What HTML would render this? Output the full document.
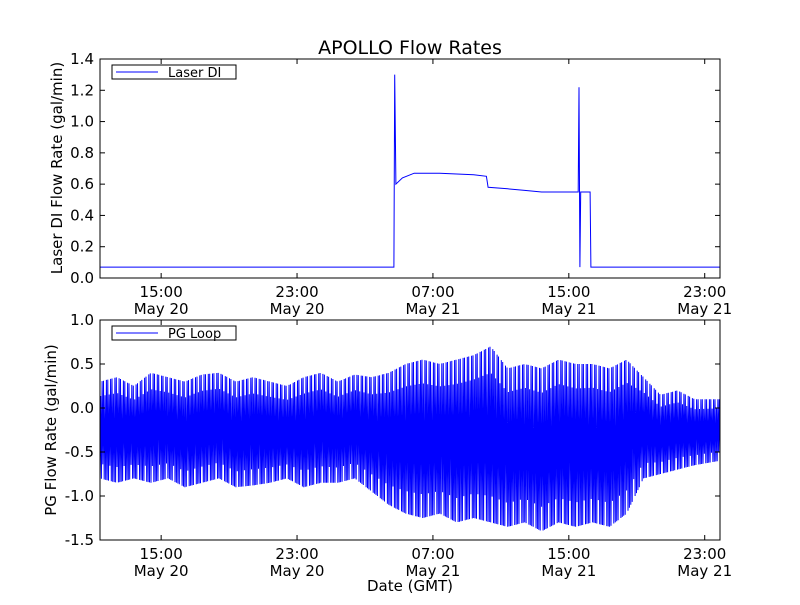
<!DOCTYPE html>
<html><head><meta charset="utf-8"><style>
body{margin:0;background:#fff}
svg text{font-family:"DejaVu Sans","Liberation Sans",sans-serif;fill:#000}
</style></head><body>
<svg id="c" width="800" height="600" xmlns="http://www.w3.org/2000/svg">
<rect width="800" height="600" fill="#fff"/>
<text x="410" y="54" font-size="19" text-anchor="middle">APOLLO Flow Rates</text>
<text transform="translate(62,168) rotate(-90)" font-size="15" text-anchor="middle">Laser DI Flow Rate (gal/min)</text>
<text transform="translate(56,430) rotate(-90)" font-size="15" text-anchor="middle">PG Flow Rate (gal/min)</text>
<text x="410" y="591" font-size="15" text-anchor="middle">Date (GMT)</text>
</svg>
<script>
// hours from plot start (~11:24 May 20)
const laserTimes=[0,17.3,17.35,17.42,17.8,18.5,20,22,22.75,22.85,24,25,26,27,27.9,28.15,28.2,28.25,28.3,28.85,28.9,36.5];
const laserValues=[0.07,0.07,1.3,0.6,0.64,0.67,0.67,0.66,0.65,0.58,0.57,0.56,0.55,0.55,0.55,0.55,1.22,0.07,0.55,0.55,0.07,0.07];
const pgHours=[0,1,2,3,4,5,6,7,8,9,10,11,12,13,14,15,16,17,18,19,20,21,22,23,24,25,26,27,28,29,30,31,32,33,34,35,36.5];
const pgUpper=[0.3,0.35,0.25,0.4,0.35,0.3,0.38,0.4,0.3,0.35,0.3,0.25,0.35,0.4,0.3,0.38,0.35,0.4,0.5,0.55,0.5,0.55,0.6,0.7,0.45,0.5,0.45,0.55,0.5,0.5,0.45,0.55,0.35,0.15,0.2,0.1,0.1];
const pgLower=[-0.8,-0.85,-0.8,-0.85,-0.8,-0.9,-0.85,-0.8,-0.9,-0.88,-0.85,-0.8,-0.9,-0.85,-0.85,-0.8,-0.95,-1.1,-1.2,-1.25,-1.2,-1.3,-1.25,-1.3,-1.35,-1.3,-1.4,-1.3,-1.35,-1.3,-1.35,-1.2,-0.8,-0.75,-0.7,-0.65,-0.6];
const xTickHours=[3.6,11.6,19.6,27.6,35.6];
const xTickTimes=["15:00","23:00","07:00","15:00","23:00"];
const xTickDates=["May 20","May 20","May 21","May 21","May 21"];
const topTicks=[0,0.2,0.4,0.6,0.8,1.0,1.2,1.4];
const botTicks=[-1.5,-1.0,-0.5,0.0,0.5,1.0];

const svg=document.getElementById('c');const NS='http://www.w3.org/2000/svg';
const X0=100,X1=720,H=36.5;
const xs=h=>X0+(X1-X0)*h/H;
function el(t,a,p){const e=document.createElementNS(NS,t);for(const k in a)e.setAttribute(k,a[k]);(p||svg).appendChild(e);return e;}
function axes(name,yTop,yBot,vmin,vmax,ticks,fmt,legendText){
  const ys=v=>yBot-(v-vmin)/(vmax-vmin)*(yBot-yTop);
  const g=el('g',{});
  
  
  return {g,ys,finish(){
    el('rect',{x:X0,y:yTop,width:X1-X0,height:yBot-yTop,fill:'none',stroke:'#000','stroke-width':1},g);
    ticks.forEach(v=>{const y=ys(v);
      el('line',{x1:X0,x2:X0+5,y1:y,y2:y,stroke:'#000'},g);el('line',{x1:X1-5,x2:X1,y1:y,y2:y,stroke:'#000'},g);
      const t=el('text',{x:X0-6,y:y+5,'font-size':15,'text-anchor':'end'},g);t.textContent=fmt(v);
      
      });
    xTickHours.forEach((h,i)=>{const x=xs(h);
      el('line',{x1:x,x2:x,y1:yBot,y2:yBot-5,stroke:'#000'},g);el('line',{x1:x,x2:x,y1:yTop,y2:yTop+5,stroke:'#000'},g);
      const t=el('text',{x:x,y:yBot+19,'font-size':15,'text-anchor':'middle'},g);t.textContent=xTickTimes[i];
      
      
      const d=el('text',{x:x,y:yBot+36,'font-size':15,'text-anchor':'middle'},g);d.textContent=xTickDates[i];
      
      });
    const lg=el('g',{},g);
    
    
    el('rect',{x:112,y:yTop+6,width:124,height:14,fill:'#fff',stroke:'#000'},lg);
    el('line',{x1:116,x2:158,y1:yTop+13,y2:yTop+13,stroke:'#00f'},lg);
    const t=el('text',{x:168,y:yTop+18,'font-size':13},lg);t.textContent=legendText;
  }};
}
const topAx=axes('laser-di-panel',59,278,0,1.4,topTicks,v=>v.toFixed(1),'Laser DI');
let pts=laserTimes.map((h,i)=>xs(h).toFixed(1)+','+topAx.ys(laserValues[i]).toFixed(1)).join(' ');
const l1=el('polyline',{points:pts,fill:'none',stroke:'#00f','stroke-width':1},topAx.g);


topAx.finish();

const botAx=axes('pg-loop-panel',320,540,-1.5,1.0,botTicks,v=>v.toFixed(1),'PG Loop');
function env(arr,h){for(let i=0;i<pgHours.length-1;i++){if(h<=pgHours[i+1]){const f=(h-pgHours[i])/(pgHours[i+1]-pgHours[i]);return arr[i]+(arr[i+1]-arr[i])*f;}}return arr[arr.length-1];}
const p2=[];const N=Math.round(H*24);
for(let k=0;k<=N;k++){const h=H*k/N;const u=env(pgUpper,h),l=env(pgLower,h),m=(u+l)/2;
  let v=k%2?u:l; if(k%6===1||k%10===4) v=m+(v-m)*0.7;
  p2.push(xs(h).toFixed(1)+','+botAx.ys(v).toFixed(1));}
const l2=el('polyline',{points:p2.join(' '),fill:'none',stroke:'#00f','stroke-width':1},botAx.g);


botAx.finish();
</script>
</body></html>
